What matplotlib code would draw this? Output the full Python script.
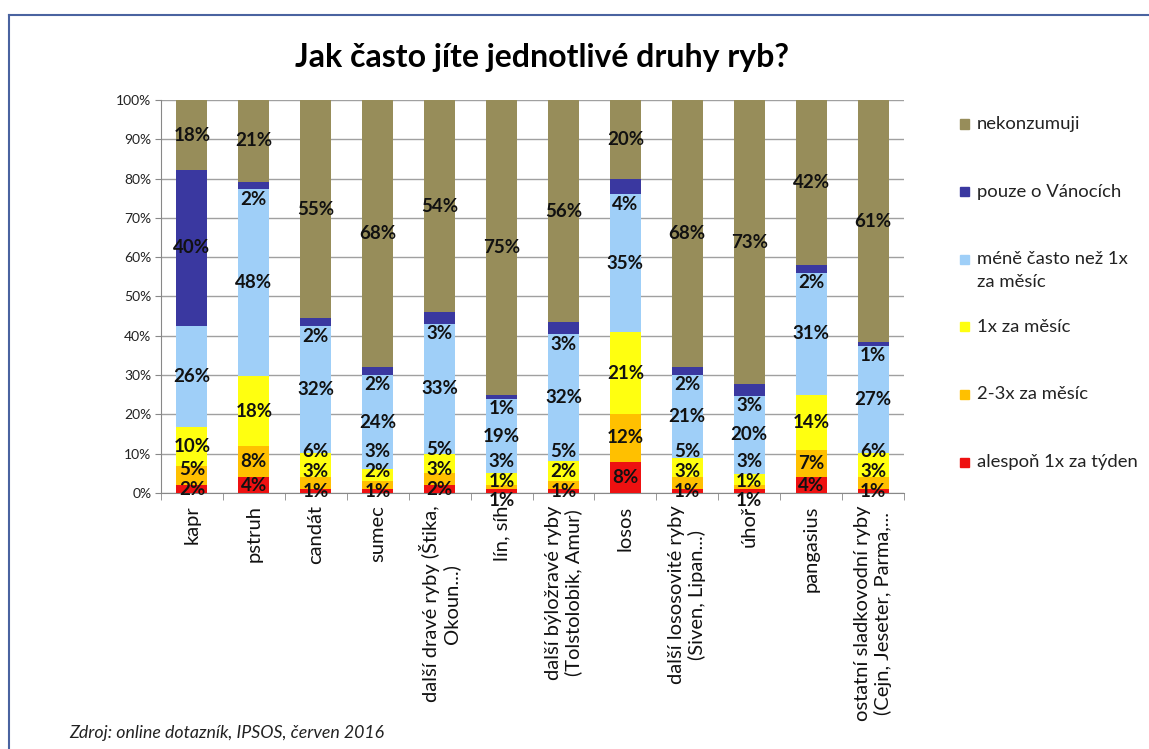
import matplotlib.pyplot as plt
import numpy as np
from matplotlib.patches import Rectangle
from matplotlib.lines import Line2D

plt.rcParams['font.family'] = ['Lato', 'DejaVu Sans']

categories = ['kapr', 'pstruh', 'candát', 'sumec',
              'další dravé ryby (Štika,\nOkoun...)', 'lín, síh',
              'další býložravé ryby\n(Tolstolobik, Amur)', 'losos',
              'další lososovité ryby\n(Siven, Lipan...)', 'úhoř', 'pangasius',
              'ostatní sladkovodní ryby\n(Cejn, Jeseter, Parma,...']

# bottom to top
series = ['alespoň 1x za týden', '2-3x za měsíc', '1x za měsíc',
          'méně často než 1x\nza měsíc', 'pouze o Vánocích', 'nekonzumuji']
colors = ['#EE1111', '#FFC000', '#FFFF10', '#9FCFF8', '#3A38A0', '#978D5A']

tyden = [2, 4, 1, 1, 2, 1, 1, 8, 1, 1, 4, 1]
dva_tri = [5, 8, 3, 2, 3, 1, 2, 12, 3, 1, 7, 3]
jednou = [10, 18, 6, 3, 5, 3, 5, 21, 5, 3, 14, 6]
mene = [26, 48, 32, 24, 33, 19, 32, 35, 21, 20, 31, 27]
vanoce = [40, 2, 2, 2, 3, 1, 3, 4, 2, 3, 2, 1]
nekonzumuji = [18, 21, 55, 68, 54, 75, 56, 20, 68, 73, 42, 61]

raw = np.array([tyden, dva_tri, jednou, mene, vanoce, nekonzumuji], dtype=float)
share = raw / raw.sum(axis=0) * 100  # 100% stacked

fig = plt.figure(figsize=(11.49, 7.49), dpi=100)
ax = fig.add_axes([0.1401, 0.3418, 0.6467, 0.5247])

x = np.arange(len(categories))
bottom = np.zeros(len(categories))
for i in range(len(series)):
    ax.bar(x, share[i], 0.5, bottom=bottom, color=colors[i], zorder=3)
    bottom += share[i]

# data labels, nudged so they don't sit on top of each other
gap = 5.0
bottoms = np.vstack([np.zeros(len(categories)), np.cumsum(share, axis=0)[:-1]])
for j in range(len(categories)):
    pos = bottoms[:, j] + share[:, j] / 2
    if share[4, j] < 10:
        pos[4] = bottoms[4, j] - 2.5
    if raw[0, j] <= 1 and raw[1, j] <= 1:
        pos[0] = -2
    for i in range(1, 4):
        pos[i] = max(pos[i], pos[i - 1] + gap)
    for i in range(len(series)):
        ax.text(x[j], pos[i], '%d%%' % raw[i, j], ha='center', va='center',
                fontsize=13.5, fontweight='bold', color='#111111', zorder=5)

ax.set_xlim(-0.5, len(categories) - 0.5)
ax.set_ylim(0, 100)
ax.set_yticks(np.arange(0, 101, 10))
ax.set_yticklabels(['%d%%' % v for v in range(0, 101, 10)], fontsize=10, color='#222222')
ax.set_xticks(x)
ax.set_xticklabels(categories, rotation=90, fontsize=14.5, color='#111111')
ax.set_xticks(np.arange(-0.5, len(categories)), minor=True)
ax.tick_params(axis='x', which='major', length=0, pad=9)
ax.tick_params(axis='x', which='minor', length=5, color='#888888')
ax.tick_params(axis='y', length=4, color='#888888', pad=3)
ax.grid(axis='y', color='#A0A0A0', linewidth=1, zorder=0)
for side in ['top', 'right']:
    ax.spines[side].set_visible(False)
for side in ['left', 'bottom']:
    ax.spines[side].set_color('#888888')

fig.text(0.472, 1 - 58 / 749, 'Jak často jíte jednotlivé druhy ryb?',
         ha='center', va='center', fontsize=23, fontweight='bold')

# legend, top entry first
for k, i in enumerate(range(len(series) - 1, -1, -1)):
    yc = 1 - (124 + k * 67.6) / 749
    fig.add_artist(Rectangle((960 / 1149, yc - 4.5 / 749), 9 / 1149, 9 / 749,
                             transform=fig.transFigure, color=colors[i]))
    fig.text(977 / 1149, yc + 8 / 749, series[i], ha='left', va='top',
             fontsize=13.3, color='#222222', linespacing=1.5)

fig.text(69 / 1149, 1 - 733 / 749, 'Zdroj: online dotazník, IPSOS, červen 2016',
         ha='left', va='center', fontsize=12.8, style='italic', color='#222222')

# frame lines round the picture
fig.add_artist(Line2D([9 / 1149, 1], [1 - 15 / 749, 1 - 15 / 749],
                      transform=fig.transFigure, color='#4A63A0', linewidth=1.5))
fig.add_artist(Line2D([9 / 1149, 9 / 1149], [0, 1 - 15 / 749],
                      transform=fig.transFigure, color='#4A63A0', linewidth=1.5))

plt.savefig('out.png', dpi=100)
